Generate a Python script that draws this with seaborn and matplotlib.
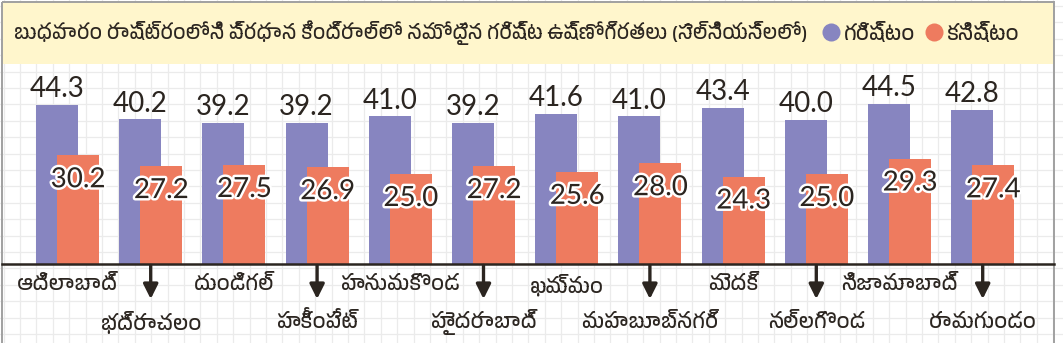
import matplotlib
matplotlib.use("Agg")
import matplotlib.pyplot as plt
import matplotlib.patheffects as pe
from matplotlib import font_manager
from matplotlib.lines import Line2D
from matplotlib.patches import Rectangle
from matplotlib.ticker import MultipleLocator
import numpy as np
import pandas as pd
import seaborn as sns

# ---- data -------------------------------------------------------------
title = "బుధవారం రాష్ట్రంలోని ప్రధాన కేంద్రాల్లో నమోదైన గరిష్ట ఉష్ణోగ్రతలు (సెల్సియస్‌లలో)"
series_names = ["గరిష్టం", "కనిష్టం"]
cities = [
    "ఆదిలాబాద్", "భద్రాచలం", "దుండిగల్", "హకీంపేట్", "హనుమకొండ", "హైదరాబాద్",
    "ఖమ్మం", "మహబూబ్‌నగర్", "మెదక్", "నల్లగొండ", "నిజామాబాద్", "రామగుండం",
]
max_temp = [44.3, 40.2, 39.2, 39.2, 41.0, 39.2, 41.6, 41.0, 43.4, 40.0, 44.5, 42.8]
min_temp = [30.2, 27.2, 27.5, 26.9, 25.0, 27.2, 25.6, 28.0, 24.3, 25.0, 29.3, 27.4]

# ---- style ------------------------------------------------------------
BLUE = "#8785c0"
ORANGE = "#ee7b5f"
INK = "#2b2520"
BANNER = "#fff6cc"

installed = {f.name for f in font_manager.fontManager.ttflist}
telugu_fonts = sorted(n for n in installed if "Telugu" in n)
TEXT_FAMILY = telugu_fonts + ["Noto Sans", "DejaVu Sans"]
NUM_FAMILY = ["Lato", "DejaVu Sans"]

W, H = 1063, 343
fig = plt.figure(figsize=(W / 100, H / 100), dpi=100)

# background layer in pixel coordinates: grid paper, banner, frame
bg = fig.add_axes([0, 0, 1, 1])
bg.set_xlim(0, W)
bg.set_ylim(H, 0)
bg.xaxis.set_major_locator(MultipleLocator(16.4, offset=3.6))
bg.yaxis.set_major_locator(MultipleLocator(16.4, offset=6))
bg.tick_params(length=0, labelbottom=False, labelleft=False)
for s in bg.spines.values():
    s.set_visible(False)
bg.set_axisbelow(True)
bg.grid(True, color="#ebebeb", lw=0.9)
bg.add_patch(Rectangle((2, 2), 1052, 62, facecolor=BANNER, edgecolor="none", zorder=1))
bg.add_patch(Rectangle((2, 2), 1052, 360, facecolor="none", edgecolor="#a0a0a0", lw=1.4, zorder=3))
bg.text(14, 33, title, family=TEXT_FAMILY, fontsize=14.3, color=INK, va="center", ha="left")

# ---- bars -------------------------------------------------------------
baseline_px = 264
px_per_unit = 3.6
ymax = 50
ax = fig.add_axes([2 / W, (H - baseline_px) / H, 1052 / W, ymax * px_per_unit / H])
ax.set_facecolor("none")

pos = np.arange(len(cities))
shift = 0.126
df_max = pd.DataFrame({"x": pos - shift, "v": max_temp})
df_min = pd.DataFrame({"x": pos + shift, "v": min_temp})
sns.barplot(data=df_max, x="x", y="v", native_scale=True, width=0.505,
            color=BLUE, saturation=1, ax=ax, errorbar=None, linewidth=0)
sns.barplot(data=df_min, x="x", y="v", native_scale=True, width=0.505,
            color=ORANGE, saturation=1, ax=ax, errorbar=None, linewidth=0)

ax.set_xlim((2 - 67.5) / 83.2, (1054 - 67.5) / 83.2)
ax.set_ylim(0, ymax)
ax.set_xlabel("")
ax.set_ylabel("")
ax.set_xticks([])
ax.set_yticks([])
for side in ("top", "left", "right"):
    ax.spines[side].set_visible(False)
ax.spines["bottom"].set_color(INK)
ax.spines["bottom"].set_linewidth(1.8)

# value labels
ax.bar_label(ax.containers[0], labels=[f"{v:.1f}" for v in max_temp], padding=2,
             family=NUM_FAMILY, fontsize=20, color=INK)
for rect, v in zip(ax.containers[1], min_temp):
    ax.annotate(f"{v:.1f}", (rect.get_x() + rect.get_width() / 2, v),
                xytext=(0, -24), textcoords="offset pixels", ha="center", va="center",
                family=NUM_FAMILY, fontsize=20, color=INK,
                path_effects=[pe.withStroke(linewidth=3.5, foreground="white")])

# city names on two staggered rows, arrows pointing to the lower row
row1_y = -(285 - baseline_px) / px_per_unit
row2_y = -(322 - baseline_px) / px_per_unit
for i, name in enumerate(cities):
    if i % 2 == 0:
        ax.text(i, row1_y, name, family=TEXT_FAMILY, fontsize=15, color=INK,
                ha="center", va="center", clip_on=False)
    else:
        ax.text(i, row2_y, name, family=TEXT_FAMILY, fontsize=15, color=INK,
                ha="center", va="center", clip_on=False)
        ax.annotate("", xy=(i, -(299 - baseline_px) / px_per_unit),
                    xytext=(i, -0.4), annotation_clip=False,
                    arrowprops=dict(arrowstyle="-|>", color=INK, lw=2.4,
                                    mutation_scale=22, shrinkA=0, shrinkB=0))

# legend in the banner
handles = [Line2D([], [], marker="o", ls="", markersize=13, markerfacecolor=c,
                  markeredgecolor="none") for c in (BLUE, ORANGE)]
fig.legend(handles, series_names, loc="center left",
           bbox_to_anchor=(821 / W, 1 - 33 / H), ncol=2, frameon=False,
           borderaxespad=0, borderpad=0,
           handletextpad=0.1, columnspacing=0.4, handlelength=1.0,
           prop={"family": TEXT_FAMILY, "size": 15}, labelcolor=INK)

fig.savefig("out.png", dpi=100)
